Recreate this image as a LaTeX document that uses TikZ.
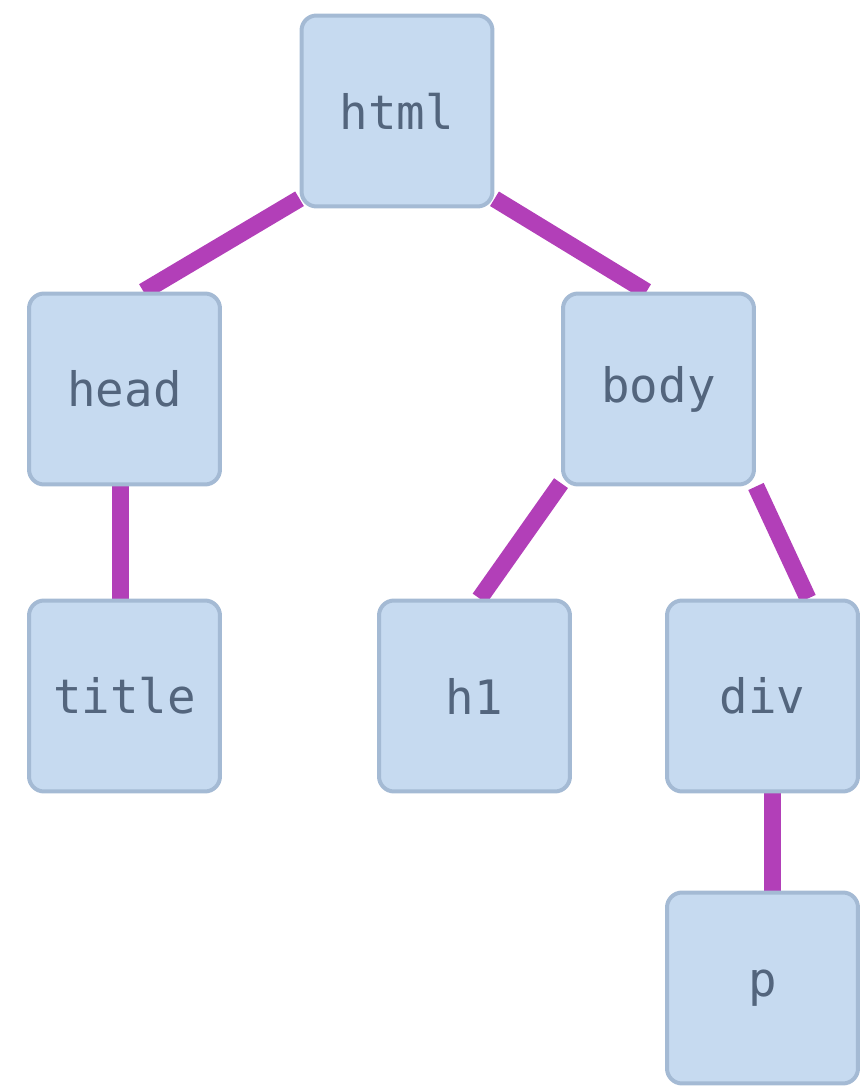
\documentclass[tikz,border=0pt]{standalone}
\usepackage{fontspec}
\setmonofont{DejaVu Sans Mono}
\usetikzlibrary{backgrounds}

\definecolor{boxfill}{HTML}{C6DAF0}
\definecolor{boxline}{HTML}{A4BAD4}
\definecolor{boxtext}{HTML}{53657D}
\definecolor{wire}{HTML}{B23FB8}

\tikzset{
  tag/.style={rectangle, rounded corners=0.3cm, fill=boxfill, draw=boxline,
    line width=0.08cm, minimum size=3.82cm, text=boxtext,
    font=\ttfamily\fontsize{27}{30}\selectfont},
  link/.style={draw=wire, line width=0.34cm}
}

\begin{document}
\begin{tikzpicture}[x=0.02cm, y=0.02cm]
\useasboundingbox (0,0) rectangle (863,1086);

\def\xa{124.5};
\def\xb{397};
\def\xc{474.5};
\def\xd{658.5};
\def\xe{762.5};

\def\ya{975};
\def\yb{697};
\def\yc{390};
\def\yd{98};

\node[tag] (html) at (\xb, \ya) {html};
\node[tag] (head) at (\xa, \yb) {head};
\node[tag] (body) at (\xd, \yb) {body};
\node[tag] (title) at (\xa, \yc) {title};
\node[tag] (h1) at (\xc, \yc) {h1};
\node[tag] (div) at (\xe, \yc) {div};
\node[tag] (p) at (\xe, \yd) {p};

\begin{scope}[on background layer]
\draw[link] (html.222) -- (head.79);
\draw[link] (html.318) -- (body.97);
\draw[link] ([xshift=-0.09cm]head.south) -- ([xshift=-0.09cm]title.north);
\draw[link] (body.224) -- (h1.87);
\draw[link] (body.315) -- (div.65);
\draw[link] ([xshift=0.19cm]div.south) -- ([xshift=0.19cm]p.north);
\end{scope}
\end{tikzpicture}
\end{document}
